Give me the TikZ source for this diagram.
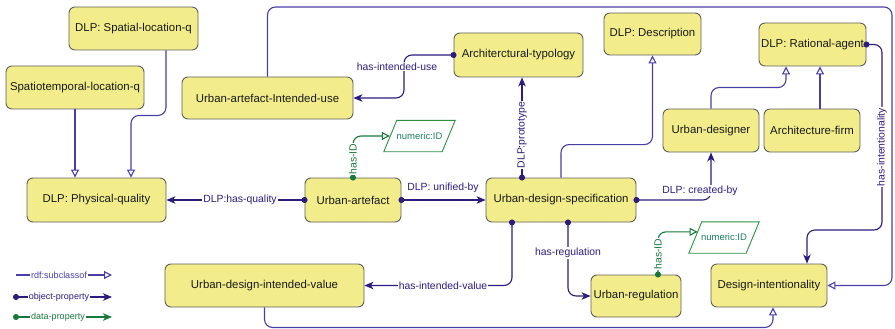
\documentclass[tikz,border=0pt]{standalone}
\usepackage{fontspec}
\setmainfont{Liberation Sans}
\usetikzlibrary{arrows.meta,calc}

\definecolor{clsfill}{RGB}{242,237,138}
\definecolor{clsdraw}{RGB}{95,95,95}
\definecolor{subcl}{RGB}{72,62,165}
\definecolor{objp}{RGB}{45,28,125}
\definecolor{datap}{RGB}{25,120,60}
\definecolor{litdraw}{RGB}{45,145,65}
\definecolor{littext}{RGB}{30,125,95}

\tikzset{
  cls/.style={draw=clsdraw, fill=clsfill, rounded corners=6pt, line width=0.9pt,
    inner sep=0pt, text=black!90, font=\fontsize{11.4}{13}\selectfont},
  lit/.style={inner sep=0pt, minimum height=31pt, text=littext,
    font=\fontsize{9.5}{11}\selectfont},
  litframe/.style={draw=litdraw, fill=white, line width=0.9pt},
  subclass/.style={draw=subcl, line width=1.1pt, rounded corners=8pt,
    -{Triangle[open, length=8pt, width=8pt, fill=white]}},
  objprop/.style={draw=objp, line width=1.1pt, rounded corners=8pt,
    {Circle[length=6pt]}-{Stealth[length=9pt, width=7.5pt, inset=2.5pt]}, shorten <=-3pt},
  dataprop/.style={draw=datap, line width=1.1pt, rounded corners=8pt,
    {Circle[length=6pt]}-{Triangle[open, length=8pt, width=8pt, fill=white]}, shorten <=-3pt},
  elabel/.style={fill=white, inner sep=1pt, text=objp, font=\fontsize{10.4}{12}\selectfont},
  dlabel/.style={elabel, text=datap},
  legtext/.style={fill=white, inner sep=1pt, font=\fontsize{9}{10}\selectfont},
}

% slanted frame round a literal node #1, slant #2 on each side
\newcommand{\litframe}[2]{%
  \path[litframe] ([xshift=-#2]#1.south west) -- ([xshift=#2]#1.north west)
    -- ([xshift=#2]#1.north east) -- ([xshift=-#2]#1.south east) -- cycle;}

\begin{document}
\begin{tikzpicture}[x=1pt, y=-1pt]
\useasboundingbox (0,0) rectangle (895,329);

% classes
\node[cls, minimum width=129pt, minimum height=43pt] (spatial)    at (133.5,28.5) {DLP: Spatial-location-q};
\node[cls, minimum width=138pt, minimum height=43pt] (spatiotemp) at (75,87.5)    {Spatiotemporal-location-q};
\node[cls, minimum width=171pt, minimum height=42pt] (uaiu)       at (267.5,98)   {Urban-artefact-Intended-use};
\node[cls, minimum width=129pt, minimum height=44pt] (archtyp)    at (518.5,55)   {Architerctural-typology};
\node[cls, minimum width=97pt,  minimum height=42pt] (descr)      at (652.5,34)   {DLP: Description};
\node[cls, minimum width=107pt, minimum height=43pt] (rational)   at (812.5,44.5) {DLP: Rational-agent};
\node[cls, minimum width=96pt,  minimum height=43pt] (udesigner)  at (711,130.5)  {Urban-designer};
\node[cls, minimum width=96pt,  minimum height=43pt] (archfirm)   at (812,130.5)  {Architecture-firm};
\node[cls, minimum width=139pt, minimum height=44pt] (physq)      at (96.5,200)   {DLP: Physical-quality};
\node[cls, minimum width=96pt,  minimum height=44pt] (uartefact)  at (353,200)    {Urban-artefact};
\node[cls, minimum width=150pt, minimum height=44pt] (uds)        at (561,200)    {Urban-design-specification};
\node[cls, minimum width=199pt, minimum height=43pt] (udiv)       at (264.5,285.5){Urban-design-intended-value};
\node[cls, minimum width=90pt,  minimum height=42pt] (ureg)       at (636,296)    {Urban-regulation};
\node[cls, minimum width=116pt, minimum height=43pt] (dint)       at (769,285.5)  {Design-intentionality};

% literals with slanted frames
\node[lit, minimum width=58pt] (numid1) at (419.5,136) {};
\litframe{numid1}{6.5pt}
\node[lit] at (numid1) {numeric:ID};
\node[lit, minimum width=57pt] (numid2) at (724,237.5) {};
\litframe{numid2}{6.5pt}
\node[lit] at (numid2) {numeric:ID};

% subclass links
\draw[subclass] (spatiotemp.south) -- (spatiotemp.south |- physq.north);
\draw[subclass] ([xshift=32.5pt]spatial.south) -- ++(0,65) -| ([xshift=34.5pt]physq.north);
\draw[subclass] (uaiu.north) |- (892,7) |- (dint.east);
\draw[subclass] (uds.north) -- ++(0,-33) -| (descr.south);
\draw[subclass] (udesigner.north) -- ++(0,-21) -| ([xshift=-26.5pt]rational.south);
\draw[subclass] ([xshift=8pt]archfirm.north) -- ([xshift=8pt]archfirm.north |- rational.south);
\draw[subclass] (udiv.south) -- ++(0,20) -| ([xshift=4pt]dint.south);

% object properties
\draw[objprop] (archtyp.west) -| (404,98) -- (uaiu.east);
\draw[objprop] ([xshift=-39pt]uds.north) -- ([xshift=-39pt]uds.north |- archtyp.south);
\draw[objprop] (rational.east) -| (882,230) -| ([xshift=38pt]dint.north);
\draw[objprop] (uartefact.west) -- (physq.east);
\draw[objprop] (uartefact.east) -- (uds.west);
\draw[objprop] (uds.east) -| (udesigner.south);
\draw[objprop] ([xshift=-49pt]uds.south) |- (udiv.east);
\draw[objprop] ([xshift=7pt]uds.south) |- (ureg.west);

% data properties
\draw[dataprop] (uartefact.north) |- ([xshift=-0.5pt]numid1.west);
\coordinate (id2in) at ($([xshift=6.5pt]numid2.north west)!0.32!([xshift=-6.5pt]numid2.south west)$);
\draw[dataprop] ([xshift=22pt]ureg.north) |- (id2in);

% property labels
\node[elabel] (l-use)   at (397,66.5)  {has-intended-use};
\node[elabel, rotate=90] (l-proto) at (522,135) {DLP:prototype};
\node[elabel, rotate=90] (l-intent) at (882,147) {has-intentionality};
\node[elabel] (l-qual)  at (240,200)   {DLP:has-quality};
\node[elabel] (l-unif)  at (443,188)   {DLP: unified-by};
\node[elabel] (l-creat) at (700,190.5) {DLP: created-by};
\node[elabel] (l-ival)  at (443,285.5) {has-intended-value};
\node[elabel] (l-reg)   at (568,253)   {has-regulation};
\node[dlabel, rotate=90] (l-id1) at (353,159) {has-ID};
\node[dlabel, rotate=90] (l-id2) at (658,254) {has-ID};

% key
\coordinate (k1a) at (16,275);  \coordinate (k1b) at (112,275);
\coordinate (k2a) at (16,297);  \coordinate (k2b) at (112,297);
\coordinate (k3a) at (16,317);  \coordinate (k3b) at (112,317);
\draw[subclass] (k1a) -- (k1b);
\draw[objprop] (k2a) -- (k2b);
\draw[draw=datap, line width=1.1pt, {Circle[length=6pt]}-{Stealth[length=9pt, width=7.5pt, inset=2.5pt]}, shorten <=-3pt, fill=datap] (k3a) -- (k3b);
\node[legtext, text=subcl] (k1) at (59,275) {rdf:subclassof};
\node[legtext, text=objp]  (k2) at (59,297) {object-property};
\node[legtext, text=datap] (k3) at (58,317) {data-property};
\end{tikzpicture}
\end{document}
